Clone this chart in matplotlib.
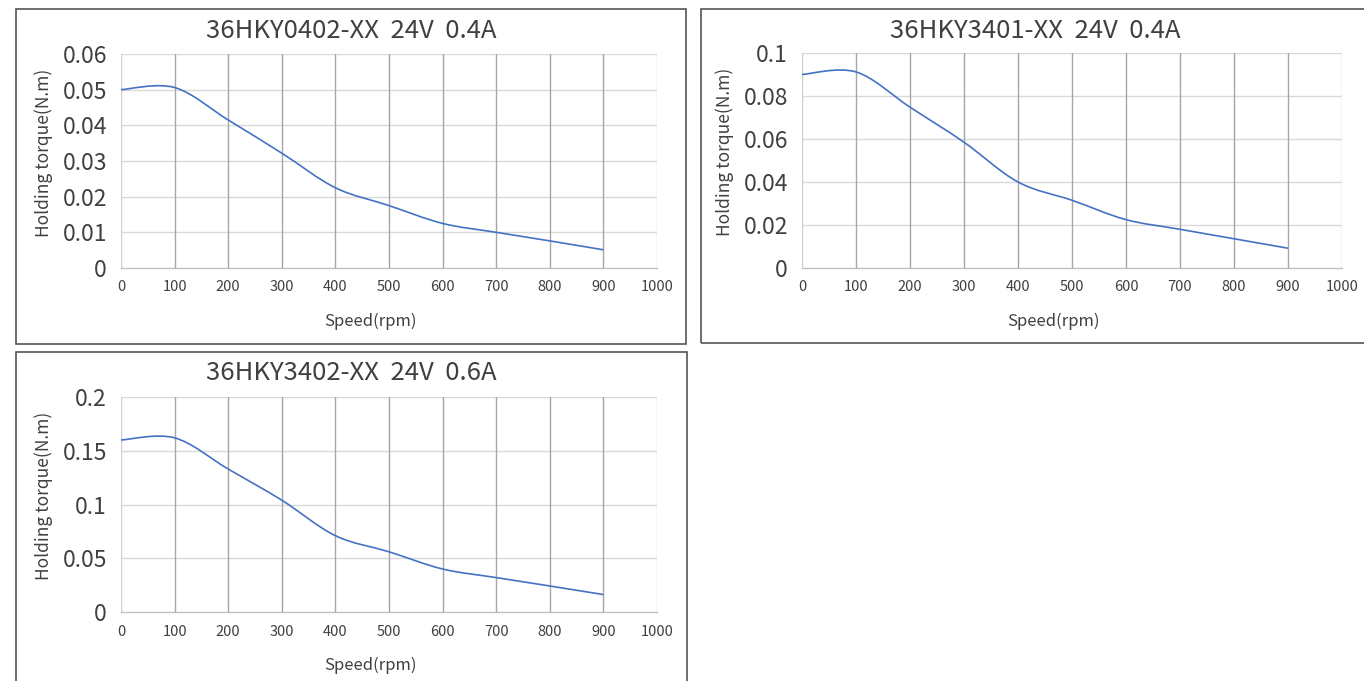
import numpy as np
import matplotlib
matplotlib.use("Agg")
import matplotlib.pyplot as plt
import matplotlib.patches as patches
from matplotlib.path import Path

plt.rcParams['font.family'] = ['Noto Sans CJK SC', 'DejaVu Sans']

# data
speed = [0, 100, 200, 300, 400, 500, 600, 700, 800, 900]
torque_0402 = [0.050, 0.0506, 0.0415, 0.0322, 0.0225, 0.0175, 0.0125, 0.0100, 0.0076, 0.0051]
torque_3401 = [0.090, 0.0912, 0.0748, 0.0585, 0.0400, 0.0315, 0.0225, 0.0180, 0.0136, 0.0092]
torque_3402 = [0.160, 0.1620, 0.1330, 0.1040, 0.0710, 0.0560, 0.0400, 0.0320, 0.0242, 0.0162]

titles = ["36HKY0402-XX  24V  0.4A", "36HKY3401-XX  24V  0.4A", "36HKY3402-XX  24V  0.6A"]
y_max = [0.06, 0.1, 0.2]
y_step = [0.01, 0.02, 0.05]
y_ticklabels = [
    ["0", "0.01", "0.02", "0.03", "0.04", "0.05", "0.06"],
    ["0", "0.02", "0.04", "0.06", "0.08", "0.1"],
    ["0", "0.05", "0.1", "0.15", "0.2"],
]
x_ticks = [0, 100, 200, 300, 400, 500, 600, 700, 800, 900, 1000]

W, H = 1364, 681
LINE = "#4472C4"
TXT = "#404040"


def smooth_path(x, y):
    # excel-style smoothed line: catmull-rom converted to bezier segments
    pts = np.column_stack([x, y]).astype(float)
    n = len(pts)
    verts = [pts[0]]
    codes = [Path.MOVETO]
    for i in range(n - 1):
        p0 = pts[i - 1] if i > 0 else pts[i]
        p1 = pts[i]
        p2 = pts[i + 1]
        p3 = pts[i + 2] if i + 2 < n else pts[i + 1]
        c1 = p1 + (p2 - p0) / 6.0
        c2 = p2 - (p3 - p1) / 6.0
        verts += [c1, c2, p2]
        codes += [Path.CURVE4] * 3
    return Path(verts, codes)


def px_axes(fig, left, top, right, bottom):
    return fig.add_axes([left / W, 1 - bottom / H, (right - left) / W, (bottom - top) / H])


fig = plt.figure(figsize=(W / 100, H / 100), dpi=100)

# panel frames (left, top, right, bottom in px)
frames = [(16, 9, 686, 344), (701, 9, 1372, 343), (16, 352, 687, 690)]
for l, t, r, b in frames:
    fig.patches.append(patches.Rectangle((l / W, 1 - b / H), (r - l) / W, (b - t) / H,
                                         transform=fig.transFigure, fill=False,
                                         edgecolor="#555555", linewidth=1.2))

plot_boxes = [(121, 54, 657, 268), (802, 53, 1342, 268), (121, 397, 657, 612)]
title_pos = [(351, 31), (1035, 31), (351, 373)]
series = [torque_0402, torque_3401, torque_3402]

for k in range(3):
    l, t, r, b = plot_boxes[k]
    ax = px_axes(fig, l, t, r, b)
    ax.set_xlim(0, 1000)
    ax.set_ylim(0, y_max[k])
    yt = np.arange(len(y_ticklabels[k])) * y_step[k]
    ax.set_yticks(yt)
    ax.set_yticklabels(y_ticklabels[k], fontsize=16.5, fontweight="light")
    ax.set_xticks(x_ticks)
    ax.set_xticklabels([str(v) for v in x_ticks], fontsize=10.5, color=TXT)
    ax.tick_params(axis="both", length=0, colors=TXT)
    ax.tick_params(axis="y", pad=10)
    ax.tick_params(axis="x", pad=9)
    for s in ["top", "right", "left"]:
        ax.spines[s].set_visible(False)
    ax.spines["bottom"].set_color("#BFBFBF")
    ax.spines["bottom"].set_linewidth(1.0)
    for v in yt[1:]:
        ax.axhline(v, color="#D9D9D9", linewidth=1.0, zorder=0)
    for v in x_ticks:
        c = "#D0D0D0" if v in (0, 1000) else "#A6A6A6"
        ax.axvline(v, color=c, linewidth=1.0, zorder=0)
    ax.add_patch(patches.PathPatch(smooth_path(speed, series[k]), fill=False,
                                   edgecolor=LINE, linewidth=1.2, zorder=3))
    ax.set_xlabel("Speed(rpm)", fontsize=12, color=TXT)
    ax.set_ylabel("Holding torque(N.m)", fontsize=12.5, color=TXT)
    ax.xaxis.set_label_coords(0.465, -0.21)
    ax.yaxis.set_label_coords(-68 / (r - l), 0.54)
    tx, ty = title_pos[k]
    fig.text(tx / W, 1 - ty / H, titles[k], fontsize=18.5, fontweight="light",
             color=TXT, ha="center", va="center")

fig.savefig("out.png", dpi=100)
